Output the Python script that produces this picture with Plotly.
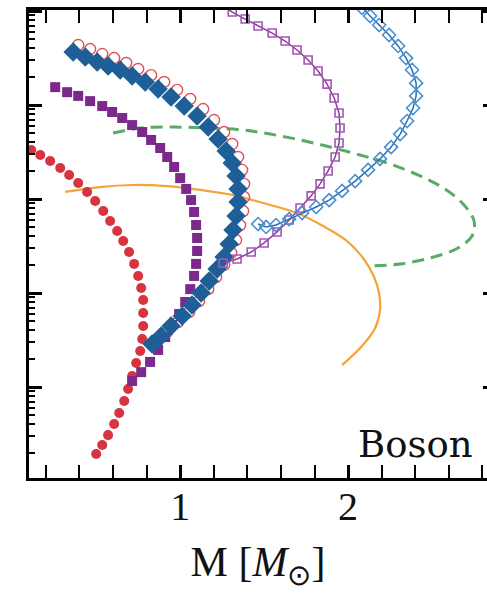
import plotly.graph_objects as go

# ---- data (M in solar masses, y on log scale) ----
red_M = [0.113, 0.167, 0.226, 0.286, 0.339, 0.393, 0.446, 0.494, 0.542, 0.583, 0.625, 0.661, 0.696, 0.726, 0.750,
         0.768, 0.780, 0.780, 0.780, 0.774, 0.762, 0.738, 0.714, 0.690, 0.667, 0.637, 0.607, 0.571, 0.536, 0.500]
red_y = [3320, 2940, 2540, 2140, 1800, 1480, 1190, 952, 745, 583, 457, 357, 273, 204, 152,
         113, 84.3, 61.3, 44.6, 32.4, 24.2, 18.0, 13.1, 9.52, 7.10, 5.29, 4.04, 3.08, 2.42, 1.94]

blue_M = [0.363, 0.435, 0.506, 0.571, 0.643, 0.714, 0.792, 0.869, 0.946, 1.024, 1.101, 1.167, 1.226, 1.274, 1.310,
          1.333, 1.345, 1.345, 1.333, 1.315, 1.292, 1.262, 1.220, 1.173, 1.125, 1.071, 1.012, 0.946, 0.887, 0.833]
blue_y = [36600, 32400, 28700, 26000, 23600, 20400, 17600, 14800, 12200, 9750, 7640, 5830, 4350, 3240, 2420,
          1760, 1280, 929, 659, 468, 332, 242, 180, 134, 100, 74.5, 56.9, 44.6, 34.9, 28.7]

ring_M = [0.393, 0.464, 0.536, 0.607, 0.679, 0.750, 0.827, 0.905, 0.982, 1.060, 1.137, 1.202, 1.262, 1.310, 1.345,
          1.369, 1.381, 1.381, 1.375, 1.357, 1.333, 1.304, 1.262, 1.214, 1.167, 1.113, 1.054, 0.988, 0.923, 0.863]
ring_y = [43500, 39400, 34900, 31600, 28000, 24200, 20800, 17600, 14500, 11600, 9060, 6920, 5160, 3850, 2800,
          2040, 1450, 1050, 745, 529, 366, 267, 199, 148, 110, 82.2, 62.8, 49.1, 38.5, 31.6]

purple_M = [0.256, 0.327, 0.393, 0.464, 0.536, 0.595, 0.655, 0.714, 0.774, 0.827, 0.881, 0.923, 0.964, 1.000, 1.036,
            1.065, 1.083, 1.095, 1.101, 1.101, 1.095, 1.083, 1.060, 1.030, 0.994, 0.952, 0.911, 0.869, 0.821, 0.768, 0.714]
purple_y = [15500, 13700, 12500, 11000, 9750, 8430, 7280, 6120, 5160, 4250, 3490, 2800, 2190, 1670, 1280,
            975, 728, 529, 385, 280, 204, 152, 110, 80.2, 59.8, 45.7, 34.0, 24.8, 18.5, 14.4, 11.6]

psq_M = [1.238, 1.310, 1.387, 1.464, 1.548, 1.625, 1.696, 1.762, 1.821, 1.875, 1.917, 1.946, 1.952, 1.946, 1.923,
         1.881, 1.833, 1.780, 1.714, 1.649, 1.577, 1.500, 1.423, 1.339, 1.256]
psq_y = [119000, 97500, 82200, 69200, 58300, 48000, 38500, 30100, 23000, 16700, 11900, 8220, 5690, 3940, 2800,
         1990, 1450, 1080, 802, 598, 446, 341, 273, 230, 208]

bdm_M = [2.042, 2.083, 2.131, 2.185, 2.244, 2.298, 2.345, 2.381, 2.405, 2.405, 2.387, 2.351, 2.310, 2.256, 2.190,
         2.119, 2.042, 1.964, 1.887, 1.810, 1.726, 1.649, 1.571, 1.512, 1.464]
bdm_y = [131000, 108000, 88500, 71000, 55600, 42500, 31600, 23600, 17100, 12500, 9290, 6760, 4910, 3570, 2670,
         2040, 1550, 1220, 975, 822, 710, 612, 529, 504, 542]

green_M = [0.601, 0.762, 0.958, 1.161, 1.375, 1.536, 1.714, 1.893, 2.071, 2.250, 2.429, 2.577, 2.685, 2.750,
           2.738, 2.643, 2.488, 2.310, 2.131]
green_y = [5040, 5690, 5830, 5690, 5420, 4910, 4250, 3570, 2940, 2360, 1760, 1280, 885, 583,
           404, 294, 236, 204, 194]

orange_M = [0.315, 0.524, 0.720, 0.923, 1.119, 1.315, 1.494, 1.696, 1.851, 1.994, 2.089, 2.155, 2.185, 2.190,
            2.161, 2.083, 1.964]
orange_y = [1190, 1340, 1410, 1370, 1250, 1100, 906, 710, 516, 357, 236, 148, 97.5, 65.9,
            42.5, 27.3, 17.1]

x_major = [1, 2]
y_major = [1, 10, 100, 1000, 10000, 100000]
y_minor = [k * d for d in [1, 10, 100, 1000, 10000] for k in range(2, 10)]

Y_RANGE = [0.032, 5.011]
X_RANGE = [0.1, 2.827]

fig = go.Figure()

fig.add_trace(go.Scatter(x=orange_M, y=orange_y, mode="lines",
                         line=dict(color="#f5a338", width=2.2, shape="spline"), showlegend=False))
fig.add_trace(go.Scatter(x=green_M, y=green_y, mode="lines",
                         line=dict(color="#5aab68", width=3, dash="12px,7px", shape="spline"), showlegend=False))
fig.add_trace(go.Scatter(x=red_M, y=red_y, mode="markers",
                         marker=dict(symbol="circle", size=10, color="#d8343f"), showlegend=False))
fig.add_trace(go.Scatter(x=purple_M, y=purple_y, mode="markers",
                         marker=dict(symbol="square", size=10, color="#7b2a8c"), showlegend=False))
fig.add_trace(go.Scatter(x=ring_M, y=ring_y, mode="markers",
                         marker=dict(symbol="circle-open", size=11, color="#e0505a", line=dict(width=1.4)),
                         showlegend=False))
fig.add_trace(go.Scatter(x=blue_M, y=blue_y, mode="markers",
                         marker=dict(symbol="diamond", size=15, color="#1f5f98"), showlegend=False))
fig.add_trace(go.Scatter(x=psq_M, y=psq_y, mode="lines+markers",
                         line=dict(color="#8a3a9c", width=1.5),
                         marker=dict(symbol="square-open", size=8, color="#a455b4", line=dict(width=1.6)),
                         showlegend=False))
fig.add_trace(go.Scatter(x=bdm_M, y=bdm_y, mode="lines+markers",
                         line=dict(color="#2c6cae", width=1.5),
                         marker=dict(symbol="diamond-open", size=10, color="#4a8fd0", line=dict(width=1.6)),
                         showlegend=False))
# helper trace for right-hand tick axis
fig.add_trace(go.Scatter(x=[None], y=[None], yaxis="y2", showlegend=False, hoverinfo="skip"))

fig.add_annotation(text="Boson", xref="paper", yref="paper", x=0.973, y=0.022,
                   xanchor="right", yanchor="bottom", showarrow=False,
                   font=dict(family="DejaVu Serif", size=37, color="#111111"))

fig.update_layout(
    width=487, height=598,
    margin=dict(l=29, r=0, t=10, b=120),
    paper_bgcolor="white", plot_bgcolor="white",
    xaxis=dict(range=X_RANGE, showgrid=False, zeroline=False,
               showline=True, linecolor="black", linewidth=3, mirror="allticks",
               ticks="inside", tickmode="array", tickvals=x_major, ticktext=[str(v) for v in x_major],
               ticklen=13, tickwidth=3, tickcolor="black", ticklabelstandoff=-9,
               minor=dict(dtick=0.2, tick0=0, ticks="inside", ticklen=6, tickwidth=2, tickcolor="black"),
               tickfont=dict(family="Liberation Serif", size=40, color="#111111"),
               title=dict(text="M [<i>M</i><sub>⊙</sub>]",
                          font=dict(family="Liberation Serif", size=42, color="#111111"), standoff=19)),
    yaxis=dict(type="log", range=Y_RANGE, showgrid=False, zeroline=False,
               showline=True, linecolor="black", linewidth=3, mirror=False,
               ticks="inside", tickmode="array", tickvals=y_major, ticklen=13, tickwidth=3, tickcolor="black",
               showticklabels=False,
               minor=dict(tickmode="array", tickvals=y_minor, ticks="inside", ticklen=6, tickwidth=2,
                          tickcolor="black")),
    yaxis2=dict(type="log", range=Y_RANGE, overlaying="y", side="right", showgrid=False, zeroline=False,
                showline=False, ticks="inside", tickmode="array", tickvals=y_major, ticklen=4, tickwidth=3,
                tickcolor="black", showticklabels=False),
)

fig.write_html("out.html")
